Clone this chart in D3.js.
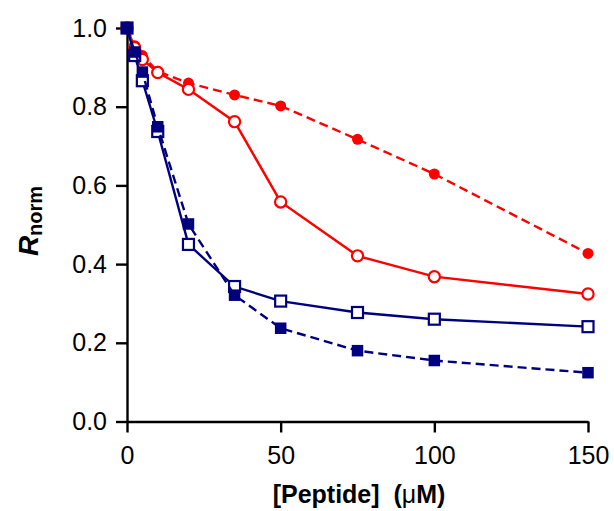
<!DOCTYPE html>
<html>
<head>
<meta charset="utf-8">
<script src="https://cdn.jsdelivr.net/npm/d3@7"></script>
<style>
  html, body { margin: 0; padding: 0; background: #fff; }
  svg { display: block; }
  text { font-family: "Liberation Sans", Arial, sans-serif; }
</style>
</head>
<body>
<svg id="chart" width="614" height="511"></svg>
<script>
// Peptide concentrations (µM)
const conc = [0, 2.5, 5, 10, 20, 35, 50, 75, 100, 150];

// Normalised response for each series
const redFilled  = [1.0, 0.955, 0.93, 0.89, 0.86, 0.83, 0.802, 0.717, 0.629, 0.427];
const redOpen    = [1.0, 0.95, 0.92, 0.887, 0.844, 0.762, 0.558, 0.421, 0.368, 0.324];
const blueOpen   = [1.0, 0.93, 0.866, 0.737, 0.45, 0.343, 0.306, 0.277, 0.26, 0.241];
const blueFilled = [1.0, 0.939, 0.888, 0.749, 0.502, 0.321, 0.237, 0.18, 0.155, 0.124];

// Axis ticks
const xTicks = [0, 50, 100, 150];
const yTicks = [0.0, 0.2, 0.4, 0.6, 0.8, 1.0];

const RED = "#ff0000";
const BLUE = "#00007f";

const svg = d3.select("#chart");

const x = d3.scaleLinear().domain([0, 150]).range([127, 588]);
const y = d3.scaleLinear().domain([0, 1]).range([421.5, 28]);

// Axes
const yAxis = svg.append("g")
  .attr("transform", `translate(${x(0)},0)`)
  .call(d3.axisLeft(y).tickValues(yTicks).tickFormat(d3.format(".1f"))
    .tickSize(11).tickSizeOuter(0).tickPadding(9));
const xAxis = svg.append("g")
  .attr("transform", `translate(0,${y(0)})`)
  .call(d3.axisBottom(x).tickValues(xTicks).tickFormat(d3.format("d"))
    .tickSize(11).tickSizeOuter(0).tickPadding(14));

[yAxis, xAxis].forEach(g => {
  g.selectAll("path.domain").attr("stroke", "#000").attr("stroke-width", 2.4);
  g.selectAll(".tick line").attr("stroke", "#000").attr("stroke-width", 2.4);
  g.selectAll(".tick text")
    .attr("fill", "#000")
    .style("font-family", "'Liberation Sans', Arial, sans-serif")
    .style("font-size", "25px");
});

// Axis titles
const xTitle = svg.append("text")
  .attr("x", 359).attr("y", 503)
  .attr("text-anchor", "middle")
  .style("font-size", "25px").style("font-weight", "bold");
xTitle.append("tspan").text("[Peptide]\u00A0 (");
xTitle.append("tspan").style("font-weight", "normal").text("\u03BC");
xTitle.append("tspan").text("M)");

const yTitle = svg.append("text")
  .attr("transform", "translate(38,221) rotate(-90)")
  .attr("text-anchor", "middle")
  .style("font-weight", "bold");
yTitle.append("tspan").style("font-style", "italic").style("font-size", "28px").text("R");
yTitle.append("tspan").attr("dy", 4).style("font-size", "20px").text("norm");

// Series
const series = [
  { values: redFilled,  color: RED,  dash: "9,5", shape: "circle", filled: true },
  { values: redOpen,    color: RED,  dash: null,  shape: "circle", filled: false },
  { values: blueOpen,   color: BLUE, dash: null,  shape: "square", filled: false },
  { values: blueFilled, color: BLUE, dash: "9,5", shape: "square", filled: true }
];

const line = d3.line().x(d => x(d[0])).y(d => y(d[1]));

series.forEach(s => {
  const pts = conc.map((c, i) => [c, s.values[i]]);
  const g = svg.append("g");
  g.append("path")
    .attr("d", line(pts))
    .attr("fill", "none")
    .attr("stroke", s.color)
    .attr("stroke-width", 2.4)
    .attr("stroke-dasharray", s.dash);
  if (s.shape === "circle") {
    g.selectAll("circle").data(pts).join("circle")
      .attr("cx", d => x(d[0])).attr("cy", d => y(d[1]))
      .attr("r", s.filled ? 5.5 : 5.6)
      .attr("fill", s.filled ? s.color : "#fff")
      .attr("stroke", s.color)
      .attr("stroke-width", s.filled ? 0 : 2.2);
  } else {
    const sz = s.filled ? 11.5 : 11;
    g.selectAll("rect").data(pts).join("rect")
      .attr("x", d => x(d[0]) - sz / 2).attr("y", d => y(d[1]) - sz / 2)
      .attr("width", sz).attr("height", sz)
      .attr("fill", s.filled ? s.color : "#fff")
      .attr("stroke", s.color)
      .attr("stroke-width", s.filled ? 0 : 2.2);
  }
});
</script>
</body>
</html>
